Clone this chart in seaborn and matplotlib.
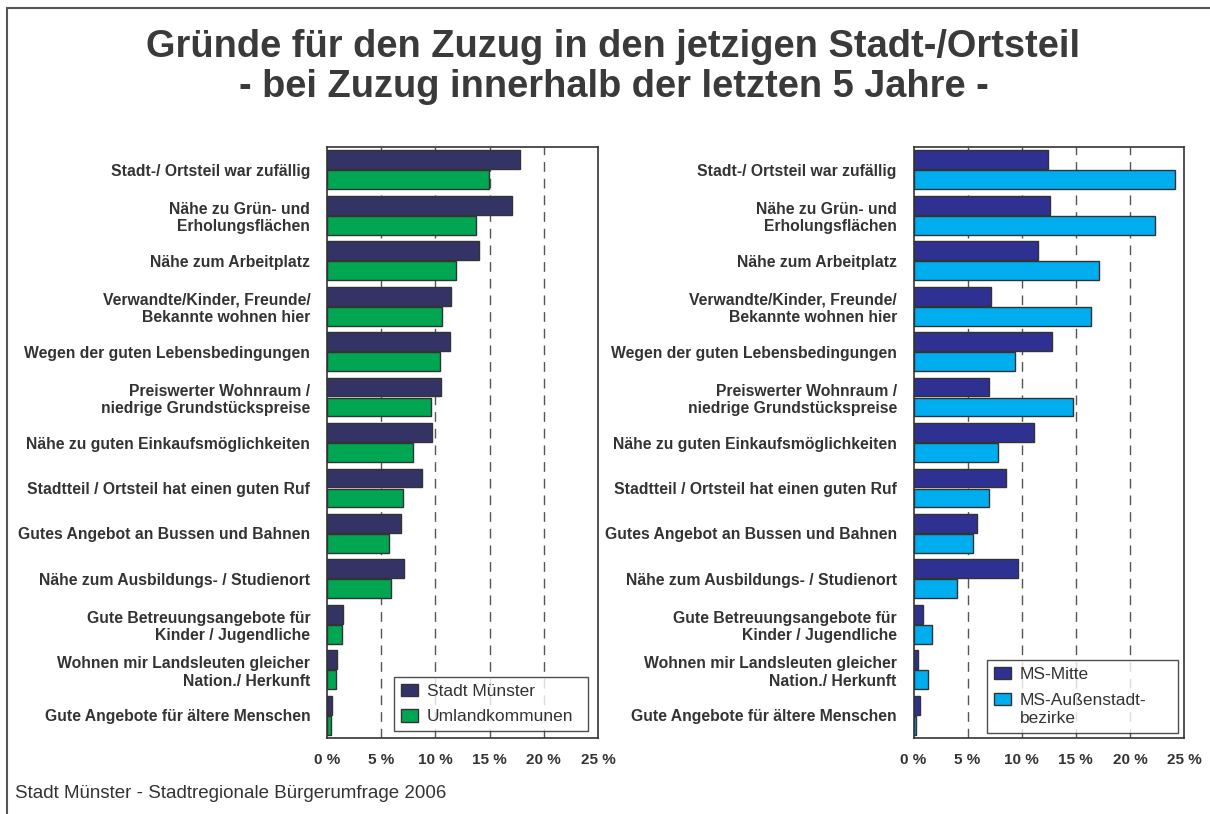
import matplotlib
matplotlib.use("Agg")
import matplotlib.pyplot as plt
from matplotlib.patches import Rectangle
import seaborn as sns
import pandas as pd

# ---------------- data ----------------
categories = [
    "Stadt-/ Ortsteil war zufällig",
    "Nähe zu Grün- und\nErholungsflächen",
    "Nähe zum Arbeitplatz",
    "Verwandte/Kinder, Freunde/\nBekannte wohnen hier",
    "Wegen der guten Lebensbedingungen",
    "Preiswerter Wohnraum /\nniedrige Grundstückspreise",
    "Nähe zu guten Einkaufsmöglichkeiten",
    "Stadtteil / Ortsteil hat einen guten Ruf",
    "Gutes Angebot an Bussen und Bahnen",
    "Nähe zum Ausbildungs- / Studienort",
    "Gute Betreuungsangebote für\nKinder / Jugendliche",
    "Wohnen mir Landsleuten gleicher\nNation./ Herkunft",
    "Gute Angebote für ältere Menschen",
]
stadt_muenster = [17.85, 17.05, 14.05, 11.45, 11.35, 10.5, 9.65, 8.75, 6.85, 7.1, 1.45, 0.95, 0.45]
umlandkommunen = [14.9, 13.7, 11.9, 10.6, 10.4, 9.55, 7.95, 7.05, 5.75, 5.95, 1.4, 0.8, 0.4]
ms_mitte = [12.45, 12.65, 11.5, 7.15, 12.8, 7.0, 11.1, 8.55, 5.85, 9.65, 0.85, 0.4, 0.6]
ms_aussen = [24.2, 22.3, 17.1, 16.4, 9.4, 14.7, 7.8, 6.95, 5.5, 4.0, 1.7, 1.3, 0.2]
left_series = ["Stadt Münster", "Umlandkommunen"]
right_series = ["MS-Mitte", "MS-Außenstadt-\nbezirke"]
x_ticks = [0, 5, 10, 15, 20, 25]
x_ticklabels = ["0 %", "5 %", "10 %", "15 %", "20 %", "25 %"]
title_1 = "Gründe für den Zuzug in den jetzigen Stadt-/Ortsteil"
title_2 = "- bei Zuzug innerhalb der letzten 5 Jahre -"
footer = "Stadt Münster - Stadtregionale Bürgerumfrage 2006"

# ---------------- style ----------------
sns.set_style("white")
plt.rcParams["font.family"] = ["Liberation Sans", "DejaVu Sans"]
TXT = "#333333"

W, H = 1210, 814
fig = plt.figure(figsize=(W / 100, H / 100), dpi=100)
fig.patch.set_facecolor("white")

# outer frame
fig.patches.append(Rectangle((7 / W, -0.1), 2.0, 1 - 8 / H + 0.1, transform=fig.transFigure,
                             fill=False, edgecolor="#555555", linewidth=1.5, clip_on=False))


def make_panel(rect, vals_a, vals_b, names, colors, legend_box):
    ax = fig.add_axes(rect)
    df = pd.DataFrame({
        "Grund": categories * 2,
        "Anteil": list(vals_a) + list(vals_b),
        "Gruppe": [names[0]] * len(categories) + [names[1]] * len(categories),
    })
    sns.barplot(data=df, y="Grund", x="Anteil", hue="Gruppe", orient="h",
                palette=colors, width=0.88, gap=0.06, edgecolor="#333333",
                linewidth=1.0, ax=ax, saturation=1, errorbar=None)
    ax.set_xlim(0, 25)
    for t in x_ticks[1:-1]:
        ax.axvline(t, color="#555555", linewidth=1.0, linestyle=(0, (7, 5)), zorder=0)
    ax.set_axisbelow(True)
    ax.set_xticks(x_ticks)
    ax.set_xticklabels(x_ticklabels, fontsize=11, fontweight="bold", color=TXT)
    ax.tick_params(axis="x", length=0, pad=11)
    ax.tick_params(axis="y", length=0, pad=12)
    for lab in ax.get_yticklabels():
        lab.set_fontsize(11.3)
        lab.set_fontweight("bold")
        lab.set_color(TXT)
    ax.set_xlabel("")
    ax.set_ylabel("")
    for s in ax.spines.values():
        s.set_visible(True)
        s.set_color("#333333")
        s.set_linewidth(1.2)
    leg = ax.legend(loc="lower left", bbox_to_anchor=legend_box, mode="expand",
                    borderaxespad=0, frameon=True, fancybox=False, edgecolor="#222222",
                    fontsize=12.5, handlelength=1.0, handleheight=0.7, handletextpad=0.5,
                    labelspacing=0.62, borderpad=0.38)
    leg.get_frame().set_linewidth(1.0)
    for t in leg.get_texts():
        t.set_color(TXT)
        t.set_linespacing(1.3)
    try:
        for col in leg._legend_handle_box.get_children():
            for row in col.get_children():
                row.align = "top"
    except Exception:
        pass
    return ax


ax_h = 591 / H
ax_b = 1 - 738 / H
make_panel([327 / W, ax_b, 271 / W, ax_h], stadt_muenster, umlandkommunen, left_series,
           ["#333366", "#00A651"], (0.247, 0.0118, 0.716, 0.09))
make_panel([913.5 / W, ax_b, 270.5 / W, ax_h], ms_mitte, ms_aussen, right_series,
           ["#2E3192", "#00AEEF"], (0.272, 0.0085, 0.706, 0.12))

fig.text(0.507, 1 - 57 / H, title_1, ha="center", va="baseline", fontsize=27.4,
         fontweight="bold", color="#3a3a3a")
fig.text(0.507, 1 - 97 / H, title_2, ha="center", va="baseline", fontsize=27.4,
         fontweight="bold", color="#3a3a3a")
fig.text(15 / W, 1 - 798 / H, footer, ha="left", va="baseline", fontsize=13.5, color=TXT)

fig.savefig("out.png", dpi=100, facecolor="white")
